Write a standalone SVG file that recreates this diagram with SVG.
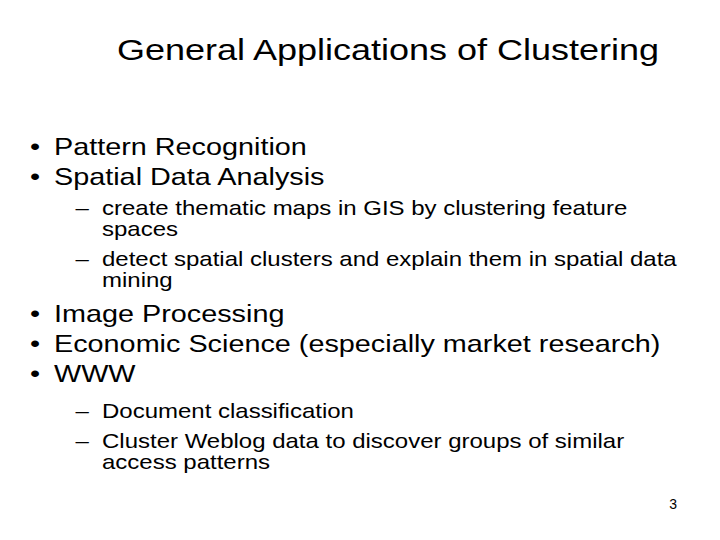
<svg xmlns="http://www.w3.org/2000/svg" width="720" height="540" viewBox="0 0 720 540">
<style>
text{font-family:"Liberation Sans",Arial,sans-serif;fill:#000}
.t{font-size:30px}
.b{font-size:24px}
.s{font-size:20px}
</style>
<rect width="720" height="540" fill="#fff"/>
<g transform="scale(1.2,1)">
<text class="t" x="323.3" y="60" text-anchor="middle">General Applications of Clustering</text>
<text class="b" x="25" y="155">•</text><text class="b" x="45" y="155">Pattern Recognition</text>
<text class="b" x="25" y="185">•</text><text class="b" x="45" y="185">Spatial Data Analysis</text>
<text class="s" x="63" y="215">–</text><text class="s" x="85" y="215">create thematic maps in GIS by clustering feature</text>
<text class="s" x="85" y="236">spaces</text>
<text class="s" x="63" y="266">–</text><text class="s" x="85" y="266">detect spatial clusters and explain them in spatial data</text>
<text class="s" x="85" y="287">mining</text>
<text class="b" x="25" y="322">•</text><text class="b" x="45" y="322">Image Processing</text>
<text class="b" x="25" y="352">•</text><text class="b" x="45" y="352">Economic Science (especially market research)</text>
<text class="b" x="25" y="382">•</text><text class="b" x="45" y="382">WWW</text>
<text class="s" x="63" y="418">–</text><text class="s" x="85" y="418">Document classification</text>
<text class="s" x="63" y="448">–</text><text class="s" x="85" y="448">Cluster Weblog data to discover groups of similar</text>
<text class="s" x="85" y="469">access patterns</text>
</g>
<text x="677" y="509" font-size="14" text-anchor="end" font-family="Liberation Sans,Arial,sans-serif">3</text>
</svg>
